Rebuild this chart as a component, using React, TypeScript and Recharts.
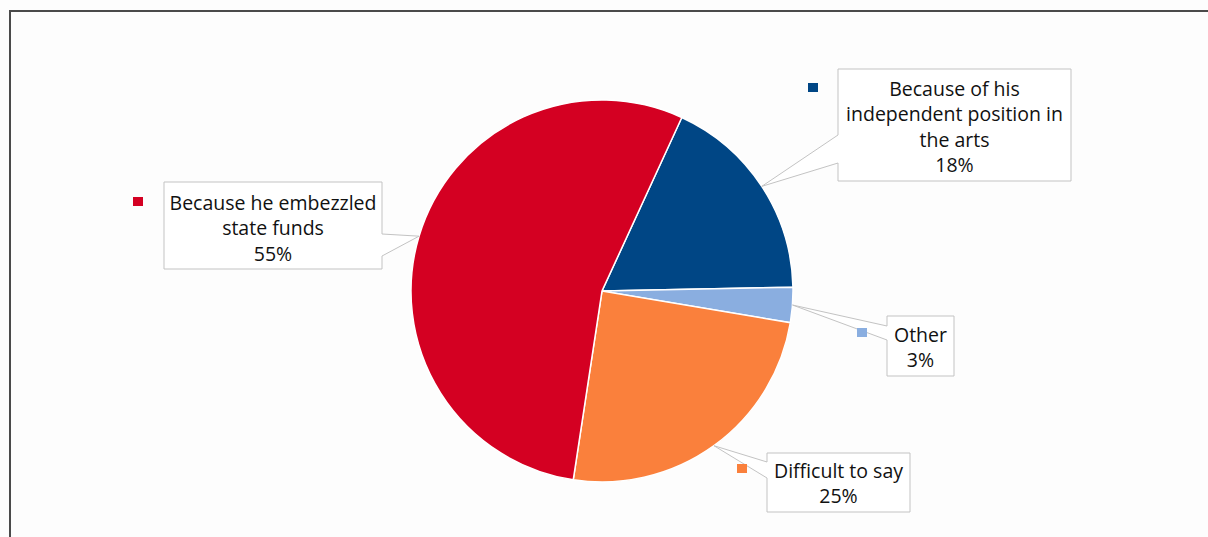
import React from 'react';
import { PieChart, Pie, Cell } from 'recharts';

// answers, in drawing order (clockwise from the top-right)
const answers = [
  'Because of his independent position in the arts',
  'Other',
  'Difficult to say',
  'Because he embezzled state funds',
];
const shares = [18, 3, 25, 55];
const labelLines = [
  ['Because of his', 'independent position in', 'the arts', '18%'],
  ['Other', '3%'],
  ['Difficult to say', '25%'],
  ['Because he embezzled', 'state funds', '55%'],
];
const colors = ['#004685', '#8AAEE0', '#FA803C', '#D40022'];

const data = answers.map((name, i) => ({ name, value: shares[i] }));

// callout boxes: box rect, side the pointer leaves from, pointer base, key square
const boxes = [
  { x: 838, y: 69, w: 233, h: 112, side: 'left', ya: 135, yb: 163, kx: 808, ky: 83, lineY: 88 },
  { x: 887, y: 316, w: 67, h: 60, side: 'left', ya: 326, yb: 340, kx: 857, ky: 328, lineY: 334 },
  { x: 767, y: 453, w: 143, h: 59, side: 'left', ya: 462, yb: 478, kx: 737, ky: 464, lineY: 470 },
  { x: 164, y: 182, w: 218, h: 87, side: 'right', ya: 234, yb: 256, kx: 133, ky: 197, lineY: 202 },
];

const RAD = Math.PI / 180;
const FONT = '"Open Sans", Lato, sans-serif';

const renderCallout = (props: any) => {
  const { cx, cy, midAngle, outerRadius, index } = props;
  const b = boxes[index];
  const tx = cx + outerRadius * Math.cos(-midAngle * RAD);
  const ty = cy + outerRadius * Math.sin(-midAngle * RAD);
  const x0 = b.x;
  const x1 = b.x + b.w;
  const y0 = b.y;
  const y1 = b.y + b.h;
  const d =
    b.side === 'left'
      ? `M${x0},${y0} L${x1},${y0} L${x1},${y1} L${x0},${y1} L${x0},${b.yb} L${tx},${ty} L${x0},${b.ya} Z`
      : `M${x0},${y0} L${x1},${y0} L${x1},${b.ya} L${tx},${ty} L${x1},${b.yb} L${x1},${y1} L${x0},${y1} Z`;
  const lines = labelLines[index];
  return (
    <g key={`callout-${index}`}>
      <path d={d} fill="#ffffff" stroke="#c3c3c3" strokeWidth={1} />
      <rect x={b.kx} y={b.ky} width={10} height={9} fill={colors[index]} />
      {lines.map((t, j) => (
        <text
          key={j}
          x={b.x + b.w / 2}
          y={b.lineY + j * 25.5}
          textAnchor="middle"
          dominantBaseline="central"
          fill="#111111"
          fontSize={19.5}
          fontFamily={FONT}
        >
          {t}
        </text>
      ))}
    </g>
  );
};

export default function App() {
  return (
    <div style={{ position: 'absolute', left: 0, top: 0, width: 1208, height: 537, background: '#fdfdfd', overflow: 'hidden' }}>
      <div
        style={{
          position: 'absolute',
          left: 9,
          top: 10,
          width: 1210,
          height: 540,
          borderTop: '2px solid #4a4a4a',
          borderLeft: '2px solid #4a4a4a',
        }}
      />
      <div style={{ position: 'absolute', left: 0, top: 0 }}>
        <PieChart width={1208} height={537} margin={{ top: 0, right: 0, bottom: 0, left: 0 }}>
          <Pie
            data={data}
            dataKey="value"
            nameKey="name"
            cx={602}
            cy={291}
            outerRadius={191}
            startAngle={65.3}
            endAngle={-294.7}
            stroke="#ffffff"
            strokeWidth={1.5}
            label={renderCallout}
            labelLine={false}
            isAnimationActive={false}
          >
            {data.map((d, i) => (
              <Cell key={d.name} fill={colors[i]} />
            ))}
          </Pie>
        </PieChart>
      </div>
    </div>
  );
}
